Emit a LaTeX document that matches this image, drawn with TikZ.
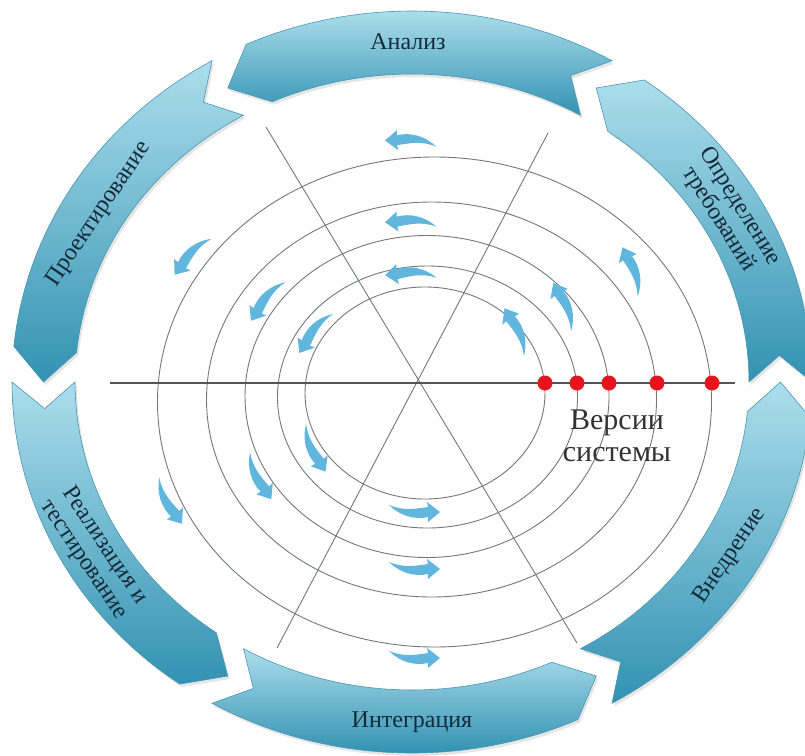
\documentclass[tikz,border=0pt]{standalone}
\usepackage{fontspec}
\setmainfont{Liberation Serif}
\definecolor{bandlight}{RGB}{172,222,236}
\definecolor{banddark}{RGB}{50,146,178}
\definecolor{bandedge}{RGB}{72,150,176}
\definecolor{ringgray}{RGB}{115,118,122}
\definecolor{axisgray}{RGB}{85,85,85}
\definecolor{swooshblue}{RGB}{96,182,220}
\definecolor{labelink}{RGB}{22,42,58}
\definecolor{dotred}{RGB}{232,20,28}
\begin{document}
\begin{tikzpicture}[x=1pt,y=-1pt,
  band/.style={top color=bandlight, bottom color=banddark, draw=bandedge, line width=0.6pt},
  bandshadow/.style={fill=black!10},
  ring/.style={draw=ringgray, line width=0.9pt},
  spoke/.style={draw=ringgray, line width=0.9pt},
  axis/.style={draw=axisgray, line width=2.8pt},
  vdot/.style={circle, fill=dotred, inner sep=0pt, minimum size=15pt},
  blabel/.style={text=labelink, align=center, inner sep=0pt, font=\fontsize{24}{25}\selectfont},
  vlabel/.style={text=black!80, align=center, inner sep=0pt, font=\fontsize{30}{32}\selectfont},
  swooshpic/.pic={\fill[swooshblue] (-25,0) -- (-13,-10) -- (-13,-5) .. controls (0,-8) and (15,-4) .. (26,7) .. controls (12,1) and (0,3) .. (-13,5) -- (-12,10) -- cycle;}
]
\useasboundingbox (0,0) rectangle (805,755);

% soft shadows of the banner arrows
\foreach \T in {0,60,...,300} {
  \pgfmathsetmacro\Hb{\T+54.5}
  \pgfmathsetmacro\Hh{\T+60}
  \pgfmathsetmacro\Tn{\T+4.5}
  \path[bandshadow] ({414+400*cos(\T)},{385-371*sin(\T)})
    -- plot[domain=\T:\Hb,samples=40] ({414+400*cos(\x)},{385-371*sin(\x)})
    -- ({414+368.5*cos(\Hh)},{385-339.5*sin(\Hh)})
    -- plot[domain=\Hb:\T,samples=40] ({414+337*cos(\x)},{385-308*sin(\x)})
    -- ({414+368.5*cos(\Tn)},{385-339.5*sin(\Tn)})
    -- cycle;
}
% banner arrows of the cycle
\foreach \T in {0,60,...,300} {
  \pgfmathsetmacro\Hb{\T+54.5}
  \pgfmathsetmacro\Hh{\T+60}
  \pgfmathsetmacro\Tn{\T+4.5}
  \path[band] ({412+400*cos(\T)},{382-371*sin(\T)})
    -- plot[domain=\T:\Hb,samples=40] ({412+400*cos(\x)},{382-371*sin(\x)})
    -- ({412+368.5*cos(\Hh)},{382-339.5*sin(\Hh)})
    -- plot[domain=\Hb:\T,samples=40] ({412+337*cos(\x)},{382-308*sin(\x)})
    -- ({412+368.5*cos(\Tn)},{382-339.5*sin(\Tn)})
    -- cycle;
}

% rings
\draw[ring] (425,393) ellipse [x radius=120, y radius=106];
\draw[ring] (427.5,397) ellipse [x radius=150, y radius=131];
\draw[ring] (427,396.5) ellipse [x radius=182, y radius=161];
\draw[ring] (431.5,399.5) ellipse [x radius=225, y radius=197.5];
\draw[ring] (434.5,402) ellipse [x radius=277, y radius=245];

% spokes
\coordinate (sa1) at (266,127);
\coordinate (sa2) at (577,643);
\coordinate (sb1) at (548,133);
\coordinate (sb2) at (277,648);
\draw[spoke] (sa1) -- (sa2);
\draw[spoke] (sb1) -- (sb2);

% small curved arrows
\pic[rotate=1] at (410,140) {swooshpic};
\pic[rotate=3] at (410,221) {swooshpic};
\pic[rotate=5] at (410,273) {swooshpic};
\pic[rotate=180] at (415,512) {swooshpic};
\pic[rotate=180] at (415,569) {swooshpic};
\pic[rotate=180] at (415,658) {swooshpic};
\pic[rotate=52] at (190,255) {swooshpic};
\pic[rotate=56] at (265,300) {swooshpic};
\pic[rotate=57] at (313,332) {swooshpic};
\pic[rotate=120] at (313,450) {swooshpic};
\pic[rotate=122] at (258,478) {swooshpic};
\pic[rotate=124] at (168,503) {swooshpic};
\pic[rotate=-65] at (633,270) {swooshpic};
\pic[rotate=-62] at (565,305) {swooshpic};
\pic[rotate=-60] at (517,330) {swooshpic};

% axis of versions
\coordinate (ax1) at (110,383);
\coordinate (ax2) at (735,383);
\draw[axis] (ax1) -- (ax2);
\node[vdot] (v1) at (545,383) {};
\node[vdot] (v2) at (577,383) {};
\node[vdot] (v3) at (609,383) {};
\node[vdot] (v4) at (657,383) {};
\node[vdot] (v5) at (712,383) {};
\node[vlabel] (ver) at (617,436) {Версии\\системы};

% labels on the banners
\node[blabel] (lanal) at (408,42) {Анализ};
\node[blabel, rotate=-58] (lreq) at (729,213) {Определение\\требований};
\node[blabel, rotate=56] (lproj) at (99,214) {Проектирование};
\node[blabel, rotate=-56] (limpl) at (94,553) {Реализация и\\тестирование};
\node[blabel] (lint) at (412,722) {Интеграция};
\node[blabel, rotate=56] (ldep) at (730,556) {Внедрение};
\end{tikzpicture}
\end{document}
